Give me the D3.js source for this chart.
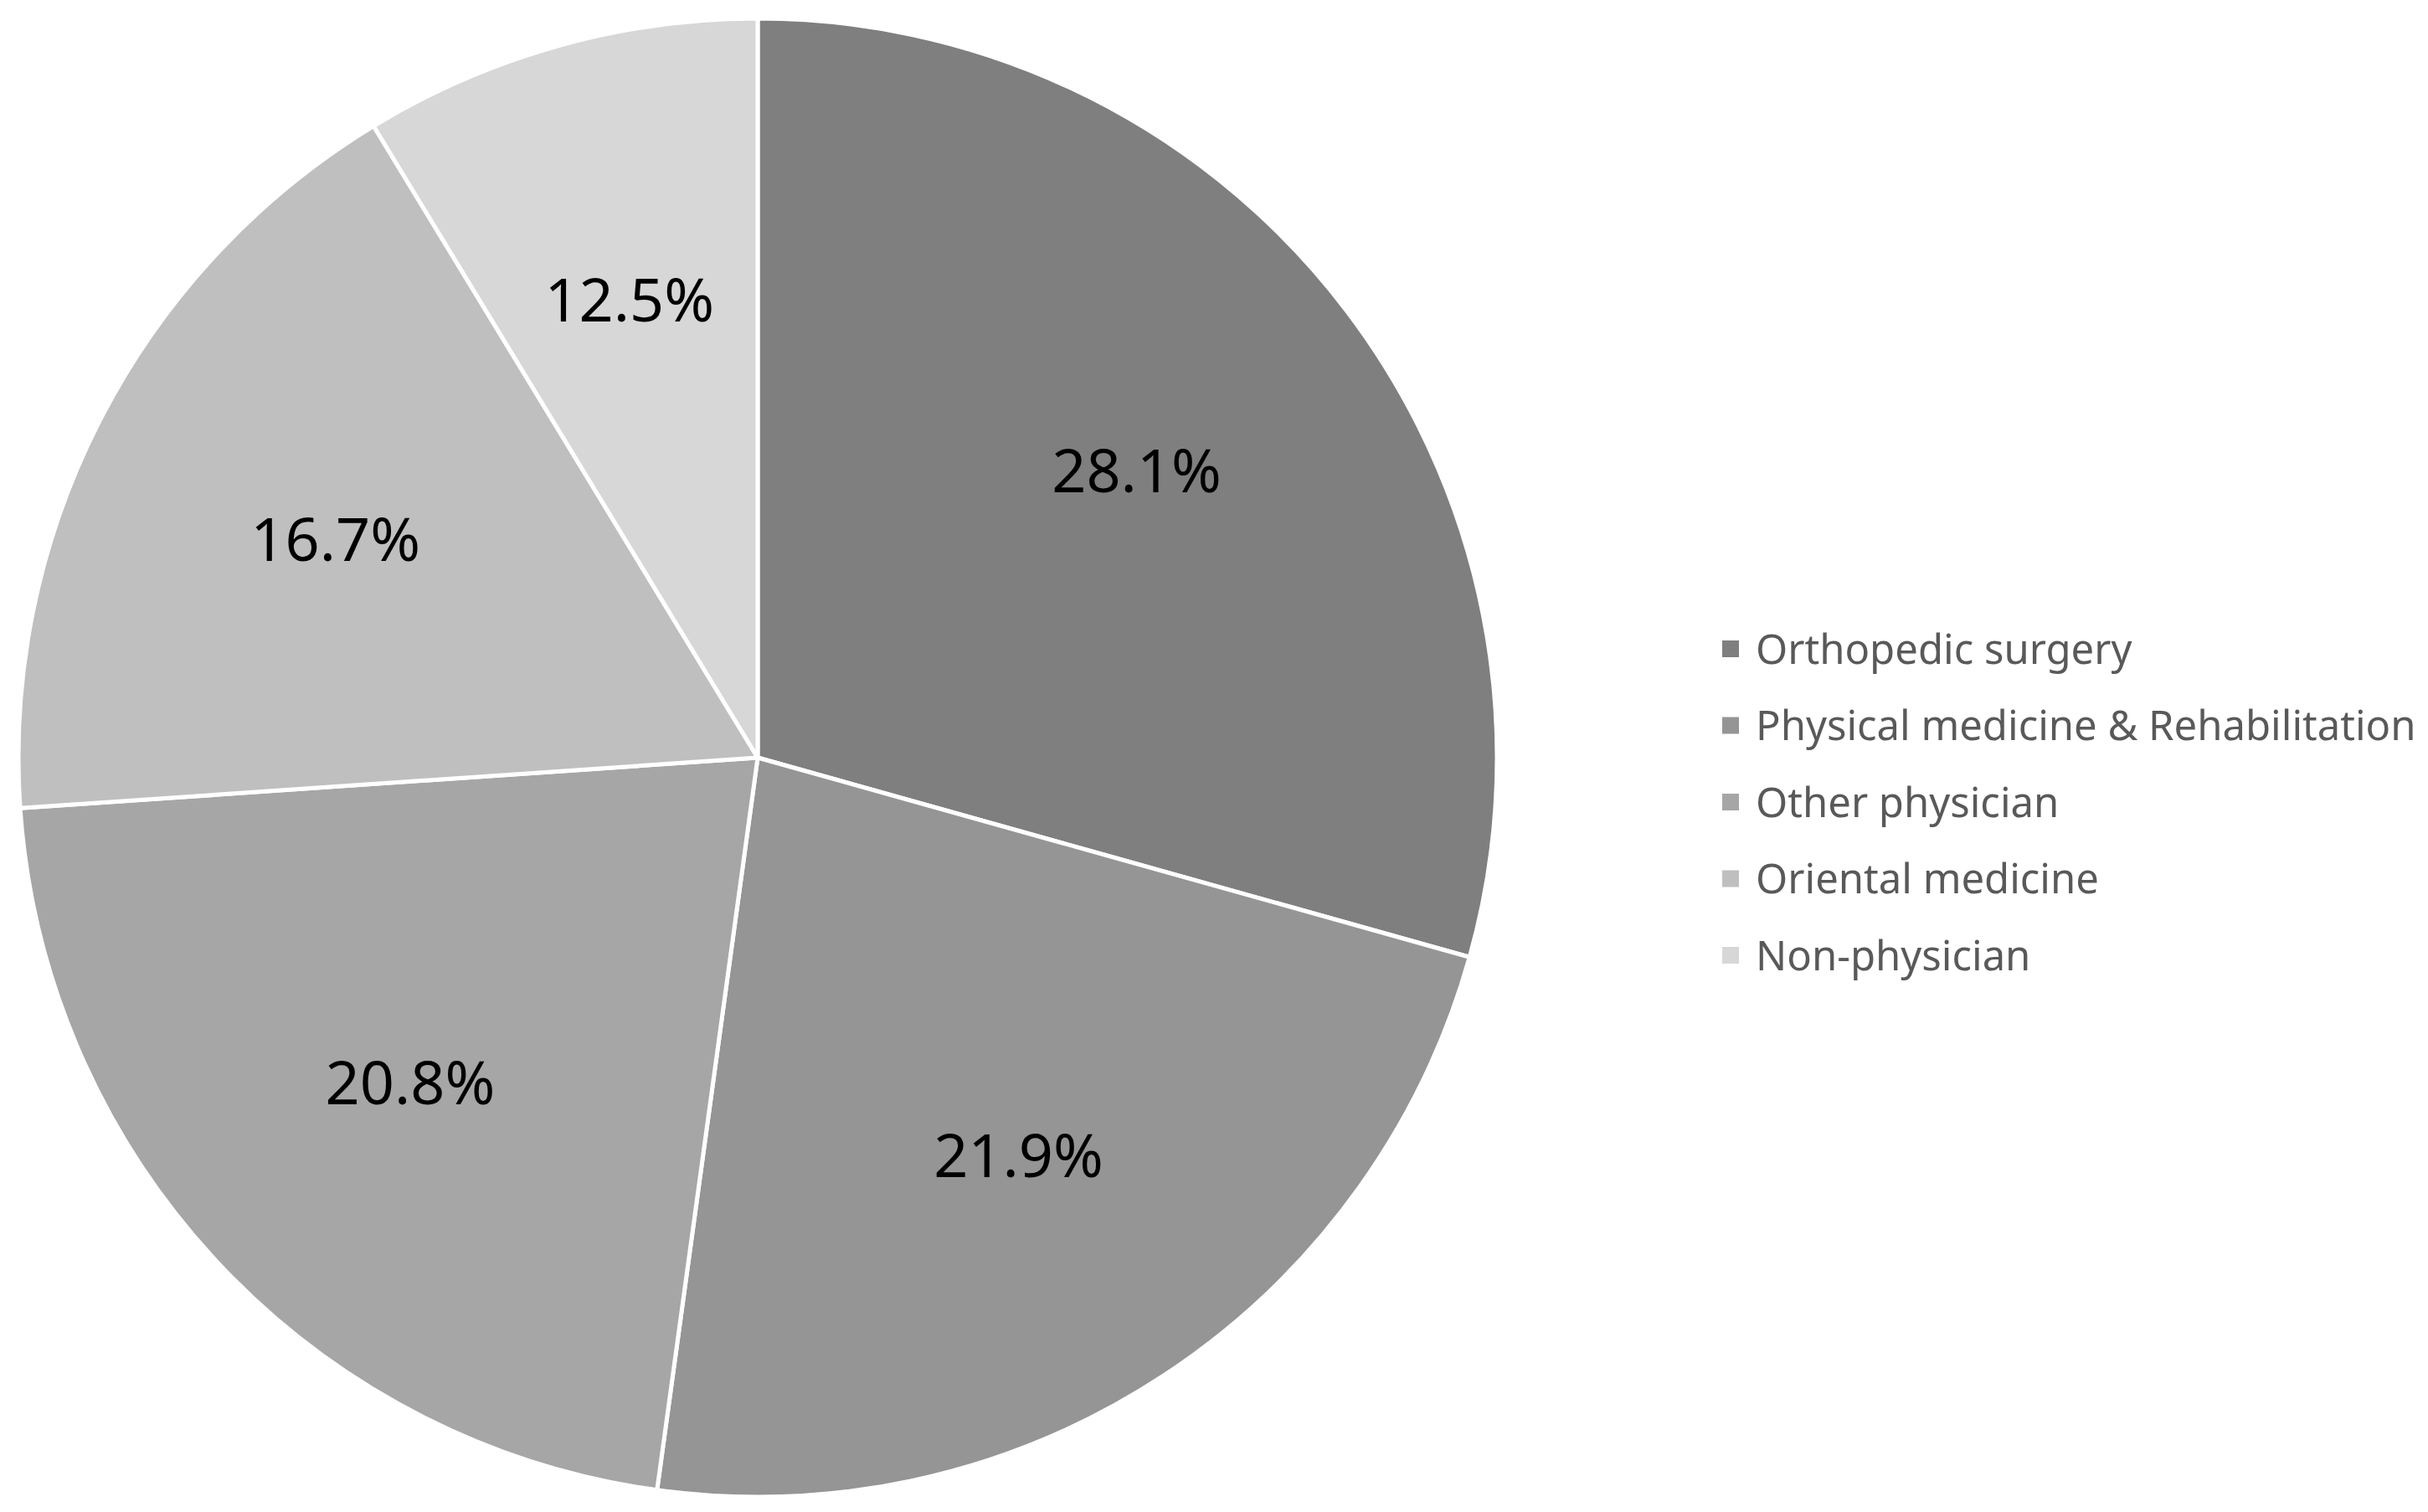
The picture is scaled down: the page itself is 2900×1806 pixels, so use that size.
<!DOCTYPE html>
<html>
<head>
<meta charset="utf-8">
<script src="https://cdn.jsdelivr.net/npm/d3@7"></script>
<style>
  html, body { margin: 0; padding: 0; background: #ffffff; }
  svg { display: block; }
</style>
</head>
<body>
<svg id="chart" width="2900" height="1806"></svg>
<script>
// Categories (legend order = slice order, clockwise from 12 o'clock)
const categories = [
  "Orthopedic surgery",
  "Physical medicine & Rehabilitation",
  "Other physician",
  "Oriental medicine",
  "Non-physician"
];
// Slice sizes as drawn in the picture (angular shares)
const sliceValues = [27, 21, 20, 16, 8];
// Data labels as printed on the slices
const labelTexts = ["28.1%", "21.9%", "20.8%", "16.7%", "12.5%"];
// Slice fills
const colors = ["#7f7f7f", "#959595", "#a6a6a6", "#bfbfbf", "#d7d7d7"];

const svg = d3.select("#chart");
const cx = 905, cy = 905, R = 883;

const pie = d3.pie().sort(null).value(d => d.value);
const data = categories.map((c, i) => ({ name: c, value: sliceValues[i], label: labelTexts[i], color: colors[i] }));
const arcs = pie(data);

const arc = d3.arc().innerRadius(0).outerRadius(R);
const labelArc = d3.arc().innerRadius(568).outerRadius(568);

const g = svg.append("g").attr("transform", `translate(${cx},${cy})`);

g.selectAll("path.slice")
  .data(arcs)
  .join("path")
  .attr("class", "slice")
  .attr("d", arc)
  .attr("fill", d => d.data.color)
  .attr("stroke", "#ffffff")
  .attr("stroke-width", 5)
  .attr("stroke-linejoin", "round");

g.selectAll("text.lbl")
  .data(arcs)
  .join("text")
  .attr("class", "lbl")
  .attr("transform", d => `translate(${labelArc.centroid(d)})`)
  .attr("text-anchor", "middle")
  .attr("dy", "0.36em")
  .attr("font-family", "'Noto Sans', 'Open Sans', sans-serif")
  .attr("font-size", 72)
  .attr("fill", "#000000")
  .text(d => d.data.label);

// Legend
const legendY = d3.scalePoint().domain(categories).range([775, 1141]);
const legend = svg.append("g");
const items = legend.selectAll("g.item")
  .data(data)
  .join("g")
  .attr("class", "item")
  .attr("transform", d => `translate(2057,${legendY(d.name)})`);

items.append("rect")
  .attr("x", 0)
  .attr("y", -10)
  .attr("width", 20)
  .attr("height", 20)
  .attr("fill", d => d.color);

items.append("text")
  .attr("x", 40)
  .attr("y", 0)
  .attr("dy", "0.36em")
  .attr("font-family", "'Noto Sans', 'Open Sans', sans-serif")
  .attr("font-size", 49)
  .attr("fill", "#595959")
  .text(d => d.name);
</script>
</body>
</html>
